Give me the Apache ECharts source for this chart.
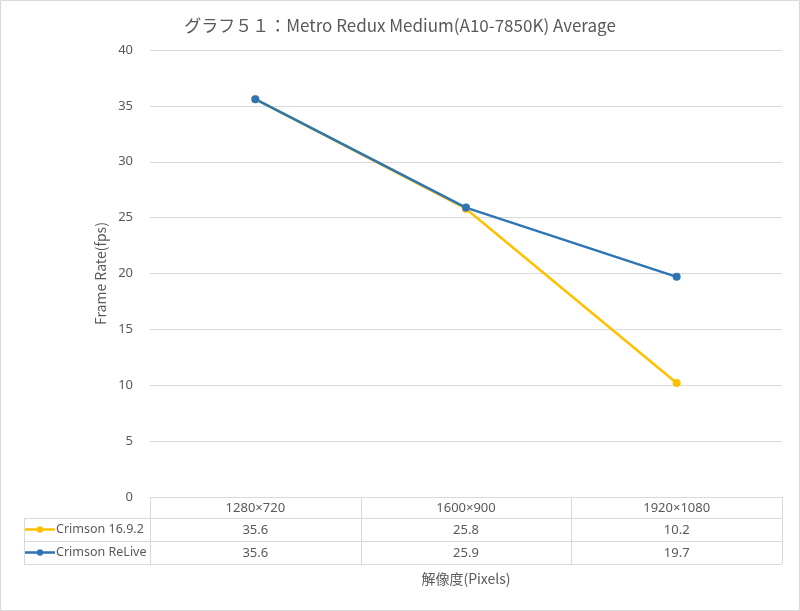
<!DOCTYPE html>
<html><head><meta charset="utf-8">
<script src="https://cdn.jsdelivr.net/npm/echarts@6/dist/echarts.min.js"></script>
<style>html,body{margin:0;padding:0;background:#fff}#c{width:800px;height:611px}</style>
</head><body><div id="c"></div>
<script>
const title = 'グラフ５１：Metro Redux Medium(A10-7850K) Average';
const categories = ['1280×720', '1600×900', '1920×1080'];
const seriesNames = ['Crimson 16.9.2', 'Crimson ReLive'];
const crimson1692 = [35.6, 25.8, 10.2];
const crimsonReLive = [35.6, 25.9, 19.7];
const yTicks = [0, 5, 10, 15, 20, 25, 30, 35, 40];
const colors = ['#FFC000', '#2E75B6'];
const FONT = '"Noto Sans CJK JP", "Noto Sans", sans-serif';
const LFONT = '"Noto Sans", sans-serif';
const TXT = '#595959';
const LINE = '#d9d9d9';

const chart = echarts.init(document.getElementById('c'), null, {renderer: 'canvas'});
const G = {left: 150, right: 18, top: 50, bottom: 114};
const headerH = 21;
const rowH = 23;
const plotBottom = 611 - G.bottom;
const plotRight = 800 - G.right;
const tableTop = plotBottom;
const tableLeft = 24;
const rows = [crimson1692, crimsonReLive];

function rowTop(r) { return r === 0 ? tableTop : tableTop + headerH + rowH * (r - 1); }

function buildGraphic() {
  const g = [];
  g.push({type: 'rect', shape: {x: 0.5, y: 0.5, width: 799, height: 610}, style: {fill: 'none', stroke: LINE, lineWidth: 1}, silent: true});
  const bottom = rowTop(3);
  g.push({type: 'line', shape: {x1: G.left, y1: tableTop + 0.5, x2: plotRight, y2: tableTop + 0.5}, style: {stroke: LINE, lineWidth: 1}});
  for (let r = 1; r <= 3; r++) {
    const y = rowTop(r) + 0.5;
    g.push({type: 'line', shape: {x1: tableLeft, y1: y, x2: plotRight, y2: y}, style: {stroke: LINE, lineWidth: 1}});
  }
  const bw = (plotRight - G.left) / categories.length;
  for (let i = 0; i <= categories.length; i++) {
    const x = Math.round(G.left + bw * i) + 0.5;
    g.push({type: 'line', shape: {x1: x, y1: tableTop, x2: x, y2: bottom}, style: {stroke: LINE, lineWidth: 1}});
  }
  g.push({type: 'line', shape: {x1: tableLeft + 0.5, y1: rowTop(1), x2: tableLeft + 0.5, y2: bottom}, style: {stroke: LINE, lineWidth: 1}});
  seriesNames.forEach((name, i) => {
    const cy = rowTop(i + 1) + rowH / 2;
    g.push({type: 'line', shape: {x1: 25, y1: cy, x2: 55, y2: cy}, style: {stroke: colors[i], lineWidth: 2.5}});
    g.push({type: 'circle', shape: {cx: 40, cy: cy, r: 3.2}, style: {fill: colors[i]}});
    g.push({type: 'text', x: 56, y: cy, style: {text: name, fill: TXT, font: '12.5px ' + LFONT, textVerticalAlign: 'middle', textAlign: 'left'}});
  });
  return g;
}

const xAxes = [{
  type: 'category', data: categories, gridIndex: 0, position: 'bottom',
  axisLine: {show: false}, axisTick: {show: false},
  axisLabel: {color: TXT, fontSize: 13, fontFamily: LFONT, margin: 5},
  name: '解像度(Pixels)', nameLocation: 'middle', nameGap: 75,
  nameTextStyle: {color: TXT, fontSize: 14, fontFamily: FONT}
}];
rows.forEach((vals, i) => {
  xAxes.push({
    type: 'category', data: vals.map(v => v.toFixed(1)), gridIndex: 0, position: 'bottom',
    offset: headerH + rowH * i,
    axisLine: {show: false}, axisTick: {show: false}, splitLine: {show: false},
    axisLabel: {color: TXT, fontSize: 13, fontFamily: LFONT, margin: 6}
  });
});

chart.setOption({
  animation: false,
  backgroundColor: '#fff',
  title: {text: title, left: 'center', top: 12,
    textStyle: {color: TXT, fontSize: 17, fontWeight: 'normal', fontFamily: FONT}},
  grid: G,
  xAxis: xAxes,
  yAxis: {
    type: 'value', min: 0, max: 40, interval: 5,
    axisLine: {show: false}, axisTick: {show: false},
    splitLine: {lineStyle: {color: LINE, width: 1}},
    axisLabel: {color: TXT, fontSize: 13, fontFamily: LFONT, margin: 17,
      formatter: v => yTicks.includes(v) ? String(v) : ''},
    name: 'Frame Rate(fps)', nameLocation: 'middle', nameGap: 42, nameRotate: 90,
    nameTextStyle: {color: TXT, fontSize: 14, fontFamily: FONT}
  },
  series: [
    {name: seriesNames[0], type: 'line', data: crimson1692, xAxisIndex: 0,
      symbol: 'circle', symbolSize: 8, color: colors[0], lineStyle: {width: 2.5, color: colors[0]}, itemStyle: {color: colors[0]}},
    {name: seriesNames[1], type: 'line', data: crimsonReLive, xAxisIndex: 0,
      symbol: 'circle', symbolSize: 8, color: colors[1], lineStyle: {width: 2.5, color: colors[1]}, itemStyle: {color: colors[1]}}
  ],
  graphic: buildGraphic()
});
</script></body></html>
